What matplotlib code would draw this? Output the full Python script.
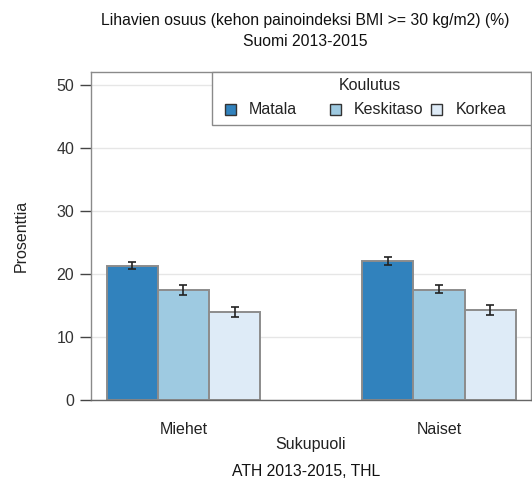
import numpy as np
import matplotlib
matplotlib.use("Agg")
from matplotlib import pyplot as plt
from matplotlib.patches import Rectangle

plt.rcParams['font.family'] = ['Liberation Sans', 'DejaVu Sans']

groups = ["Miehet", "Naiset"]
levels = ["Matala", "Keskitaso", "Korkea"]
values = {
    "Matala": [21.2, 22.0],
    "Keskitaso": [17.4, 17.5],
    "Korkea": [13.9, 14.2],
}
err_low = {
    "Matala": [20.7, 21.4],
    "Keskitaso": [16.7, 16.9],
    "Korkea": [13.1, 13.5],
}
err_high = {
    "Matala": [21.8, 22.7],
    "Keskitaso": [18.2, 18.2],
    "Korkea": [14.7, 15.0],
}
colors = {"Matala": "#3182bd", "Keskitaso": "#9ecae1", "Korkea": "#deebf7"}

W, H = 532, 488
fig = plt.figure(figsize=(W / 100, H / 100), dpi=100)
# axes box in pixels: x 91..531, y 72..400
ax = fig.add_axes([91 / W, 1 - 400 / H, 440 / W, 328 / H])

x = np.arange(len(groups))
width = 0.2
for i, lev in enumerate(levels):
    pos = x + (i - 1) * width
    vals = np.array(values[lev])
    lo = vals - np.array(err_low[lev])
    hi = np.array(err_high[lev]) - vals
    ax.bar(pos, vals, width, color=colors[lev], edgecolor="#8c8c8c",
           linewidth=1.4, zorder=2)
    ax.errorbar(pos, vals, yerr=[lo, hi], fmt="none", ecolor="#222222",
                elinewidth=1.2, capsize=3, capthick=1.2, zorder=3)

ax.set_xlim(-0.362, 1.36)
ax.set_ylim(0, 52)
ax.set_yticks([0, 10, 20, 30, 40, 50])
ax.set_xticks(x)
ax.set_xticklabels(groups)
ax.tick_params(axis="y", length=8, width=1, color="#444444", labelsize=11.5,
               labelcolor="#333333", pad=4)
ax.tick_params(axis="x", length=0, labelsize=11.5, labelcolor="#222222", pad=16)
ax.grid(axis="y", color="#e6e6e6", linewidth=1, zorder=0)
ax.set_axisbelow(True)
for s in ax.spines.values():
    s.set_color("#8a8a8a")
    s.set_linewidth(1)
ax.spines["bottom"].set_color("#666666")

ax.set_ylabel("Prosenttia", fontsize=11.5, color="#222222", labelpad=20)
ax.set_xlabel("Sukupuoli", fontsize=11.5, color="#222222", labelpad=0)

# legend drawn by hand so columns are evenly spaced like the original
ax.add_patch(Rectangle((0.275, 0.838), 0.725, 0.162, transform=ax.transAxes,
                       facecolor="white", edgecolor="#8a8a8a", linewidth=1,
                       zorder=5, clip_on=False))
ax.text(0.634, 0.958, "Koulutus", transform=ax.transAxes, ha="center",
        va="center", fontsize=11.5, color="#222222", zorder=6)
hx = [0.316, 0.555, 0.786]
for lev, h in zip(levels, hx):
    ax.add_patch(Rectangle((h - 0.0125, 0.887 - 0.0168), 0.025, 0.0335,
                           transform=ax.transAxes, facecolor=colors[lev],
                           edgecolor="#333333", linewidth=1, zorder=6,
                           clip_on=False))
    ax.text(h + 0.043, 0.885, lev, transform=ax.transAxes, ha="left",
            va="center", fontsize=11.5, color="#222222", zorder=6)

fig.text(305 / W, 1 - 20 / H, "Lihavien osuus (kehon painoindeksi BMI >= 30 kg/m2) (%)",
         ha="center", va="center", fontsize=11.3, color="#111111")
fig.text(305 / W, 1 - 42 / H, "Suomi 2013-2015", ha="center", va="center",
         fontsize=11.3, color="#111111")
fig.text(306 / W, 1 - 472 / H, "ATH 2013-2015, THL", ha="center", va="center",
         fontsize=11.3, color="#111111")

fig.savefig("out.png", dpi=100)
